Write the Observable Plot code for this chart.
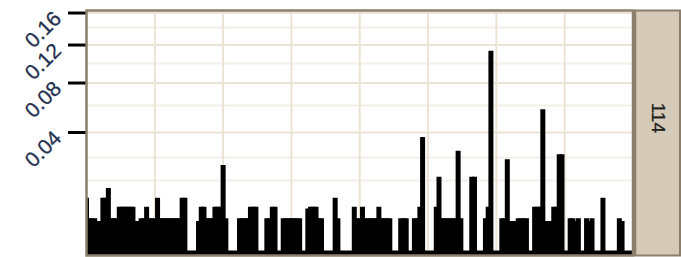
<!DOCTYPE html>
<html><head><meta charset="utf-8">
<script src="https://cdn.jsdelivr.net/npm/d3@7"></script>
<script src="https://cdn.jsdelivr.net/npm/@observablehq/plot@0.6"></script>
<style>body{margin:0;background:#fff}</style>
</head><body><div id="chart"></div>
<script>
// share value at each position
const shares = [
  0.0081, 0.0031, 0.0031, 0.0031, 0.0026, 0.0026, 0.0081, 0.0081, 0.0113, 0.0031,
  0.0031, 0.0031, 0.0056, 0.0056, 0.0056, 0.0056, 0.0056, 0.0056, 0.0026, 0.0026,
  0.0031, 0.0031, 0.0056, 0.0031, 0.0031, 0.0031, 0.0081, 0.0031, 0.0031, 0.0031,
  0.0031, 0.0031, 0.0031, 0.0031, 0.0031, 0.0081, 0.0081, 0, 0, 0,
  0, 0.0026, 0.0056, 0.0056, 0.0031, 0.0031, 0.0031, 0.0056, 0.0056, 0.0056,
  0.0210, 0.0031, 0, 0, 0, 0, 0.0031, 0.0031, 0.0031, 0.0031,
  0.0056, 0.0056, 0.0056, 0, 0, 0, 0.0031, 0.0031, 0.0056, 0.0056,
  0, 0, 0.0031, 0.0031, 0.0031, 0.0031, 0.0031, 0.0031, 0.0031, 0,
  0, 0.0052, 0.0056, 0.0056, 0.0056, 0.0031, 0.0031, 0, 0, 0,
  0, 0.0081, 0.0031, 0, 0, 0, 0, 0, 0.0056, 0.0031,
  0.0031, 0.0056, 0.0031, 0.0031, 0.0031, 0.0031, 0.0031, 0.0056, 0.0031, 0.0031,
  0.0031, 0.0031, 0, 0, 0, 0.0031, 0.0031, 0.0031, 0, 0,
  0.0031, 0.0031, 0.0056, 0.0368, 0, 0, 0, 0, 0.0056, 0.0157,
  0.0031, 0.0031, 0.0031, 0.0031, 0.0031, 0.0031, 0.0285, 0.0031, 0, 0,
  0, 0.0157, 0.0157, 0, 0, 0, 0.0031, 0.0056, 0.1129, 0,
  0, 0, 0.0031, 0.0031, 0.0238, 0.0026, 0.0026, 0.0026, 0.0031, 0.0031,
  0.0031, 0.0031, 0, 0, 0.0056, 0.0056, 0.0056, 0.0566, 0.0026, 0.0026,
  0.0026, 0.0056, 0.0056, 0.0265, 0.0265, 0, 0, 0.0031, 0.0031, 0.0026,
  0.0031, 0, 0, 0.0031, 0.0026, 0.0031, 0, 0, 0, 0.0081,
  0, 0, 0, 0, 0, 0.0031, 0.0026, 0, 0, 0,
  0
];
const positions = shares.map((_, i) => i);
const xDomain = [0, 200];
const xGrid = [25, 50, 75, 100, 125, 150, 175];
const yTicks = [0.04, 0.08, 0.12, 0.16];
const yTickLabels = ["0.04", "0.08", "0.12", "0.16"];
const yMinorGrid = [0.0143, 0.025, 0.0601, 0.0995, 0.1412];
const yMax = 0.1634;
const stripLabel = "114";

const data = positions.map((p, i) => ({pos: p, share: shares[i]}));

const W = 681, H = 257, mL = 86, mR = 48.5, mT = 10, mB = 2;
const plotW = W - mL - mR;

const chart = Plot.plot({
  width: W, height: H,
  marginLeft: mL, marginRight: mR, marginTop: mT, marginBottom: mB,
  style: {fontFamily: "'Liberation Sans', Arial, sans-serif", background: "#fff"},
  x: {domain: xDomain, axis: null},
  y: {type: "sqrt", domain: [0, yMax], insetBottom: 3.5},
  marks: [
    Plot.frame({fill: "#d5cab7", stroke: "#8a7f6c", strokeWidth: 2, insetLeft: plotW + 2, insetRight: -47}),
    Plot.ruleY(yMinorGrid, {stroke: "#f4f0e8", strokeWidth: 2}),
    Plot.ruleY(yTicks, {stroke: "#ebe3d5", strokeWidth: 2}),
    Plot.ruleX(xGrid, {stroke: "#ebe3d5", strokeWidth: 2}),
    Plot.ruleY([0], {stroke: "black", strokeWidth: 5.5, dy: 1.25}),
    Plot.ruleX(data, {x: "pos", y: "share", stroke: "black", strokeWidth: 5, clip: true}),
    Plot.axisY(yTicks, {tickSize: 18, strokeWidth: 3, stroke: "black", tickFormat: () => "", label: null}),
    Plot.text(yTicks, {y: d => d, text: (d, i) => yTickLabels[i], frameAnchor: "left",
      textAnchor: "end", lineAnchor: "bottom", rotate: -45, dx: -24, dy: 7, fontSize: 21,
      fill: "#25304f", stroke: "#25304f", strokeWidth: 0.3}),
    Plot.text([stripLabel], {frameAnchor: "right", dx: 25, rotate: 90, fontSize: 19,
      fill: "#1e1e1e", stroke: "#1e1e1e", strokeWidth: 0.3}),
    Plot.frame({stroke: "#8a7f6c", strokeWidth: 2.5}),
    Plot.ruleX([xDomain[1]], {stroke: "#8a7f6c", strokeWidth: 3.5, dx: 1.5})
  ]
});
document.getElementById("chart").appendChild(chart);
</script>
</body></html>
